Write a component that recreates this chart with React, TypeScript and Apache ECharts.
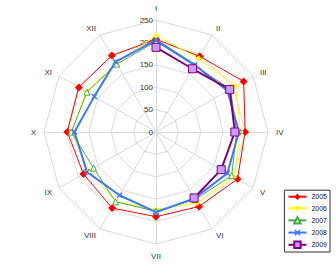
import React, { useEffect, useRef } from "react";
import * as echarts from "echarts";

const months = ["I", "II", "III", "IV", "V", "VI", "VII", "VIII", "IX", "X", "XI", "XII"];
const tickMax = 250;
const seriesNames = ["2005", "2006", "2007", "2008", "2009"];
const v2005 = [207, 195, 226, 199, 210, 192, 189, 196, 187, 198, 199, 197];
const v2006 = [215, 190, 205, 189, 201, 183, 173, 179, 173, 189, 180, 178];
const v2007 = [202, 171, 192, 180, 195, 174, 177, 180, 161, 189, 178, 175];
const v2008 = [205, 173, 184, 185, 184, 171, 179, 163, 178, 182, 159, 181];
const v2009 = [189, 163, 190, 176, 168, 170];

const crossPath =
  "path://M-3,-2 L-2,-3 L0,-1 L2,-3 L3,-2 L1,0 L3,2 L2,3 L0,1 L-2,3 L-3,2 L-1,0 Z";

function toPolar(vals: number[], closed: boolean) {
  const pts = vals.map((v, i) => [v, i]);
  if (closed) pts.push([vals[0], vals.length]);
  return pts;
}

export default function App() {
  const ref = useRef<HTMLDivElement>(null);
  useEffect(() => {
    document.body.style.margin = "0";
    const chart = echarts.init(ref.current!, null, { renderer: "svg" });
    // radar goes counter-clockwise: reverse order after I
    const order = [0, ...months.slice(1).map((_, i) => months.length - 1 - i)];
    const indicators = order.map((idx, k) => {
      const ind: any = { name: months[idx], min: 0, max: tickMax, color: "#333" };
      if (k !== 0) ind.axisLabel = { show: false };
      return ind;
    });
    const center = [156, 132];
    const radius = 112;
    const mk = (
      name: string,
      vals: number[],
      closed: boolean,
      color: string,
      width: number,
      symbol: string,
      size: number,
      itemStyle: any
    ) => ({
      name,
      type: "line",
      coordinateSystem: "polar",
      data: toPolar(vals, closed),
      lineStyle: { color, width },
      symbol,
      symbolSize: size,
      itemStyle,
      z: 5,
    });
    chart.setOption({
      animation: false,
      textStyle: { fontFamily: "Liberation Sans, Arial, sans-serif" },
      radar: {
        center,
        radius,
        startAngle: 90,
        shape: "polygon",
        splitNumber: 5,
        indicator: indicators,
        axisName: { color: "#333", fontSize: 8 },
        nameGap: 8,
        splitLine: { lineStyle: { color: "#d9d9d9", width: 1 } },
        splitArea: { show: false },
        axisLine: { lineStyle: { color: "#d9d9d9", width: 1 } },
        axisLabel: { show: true, color: "#333", fontSize: 8, margin: 3 },
      },
      polar: { center, radius },
      angleAxis: {
        type: "value",
        min: 0,
        max: 12,
        startAngle: 90,
        clockwise: true,
        show: false,
      },
      radiusAxis: { type: "value", min: 0, max: tickMax, show: false },
      legend: {
        orient: "vertical",
        right: 6,
        bottom: 15,
        borderColor: "#333",
        borderWidth: 1,
        padding: [3, 3, 3, 3],
        itemGap: 4.5,
        itemWidth: 18,
        itemHeight: 8,
        textStyle: { fontSize: 7, color: "#111" },
        data: seriesNames,
      },
      series: [
        mk(seriesNames[0], v2005, true, "#ff0000", 1, "diamond", 8, { color: "#ff0000" }),
        mk(seriesNames[1], v2006, true, "#ffff00", 1, "diamond", 6, { color: "#ffff00" }),
        mk(seriesNames[2], v2007, true, "#4aa84a", 1, "triangle", 6, {
          color: "#ffffff",
          borderColor: "#4aa84a",
          borderWidth: 1,
        }),
        mk(seriesNames[3], v2008, true, "#3c78ff", 2, crossPath, 6, { color: "#3c78ff" }),
        mk(seriesNames[4], v2009, false, "#800080", 2, "rect", 8, {
          color: "#cc99ff",
          borderColor: "#800080",
          borderWidth: 1,
        }),
      ],
    });
    return () => chart.dispose();
  }, []);
  return <div ref={ref} style={{ width: 336, height: 267 }} />;
}
